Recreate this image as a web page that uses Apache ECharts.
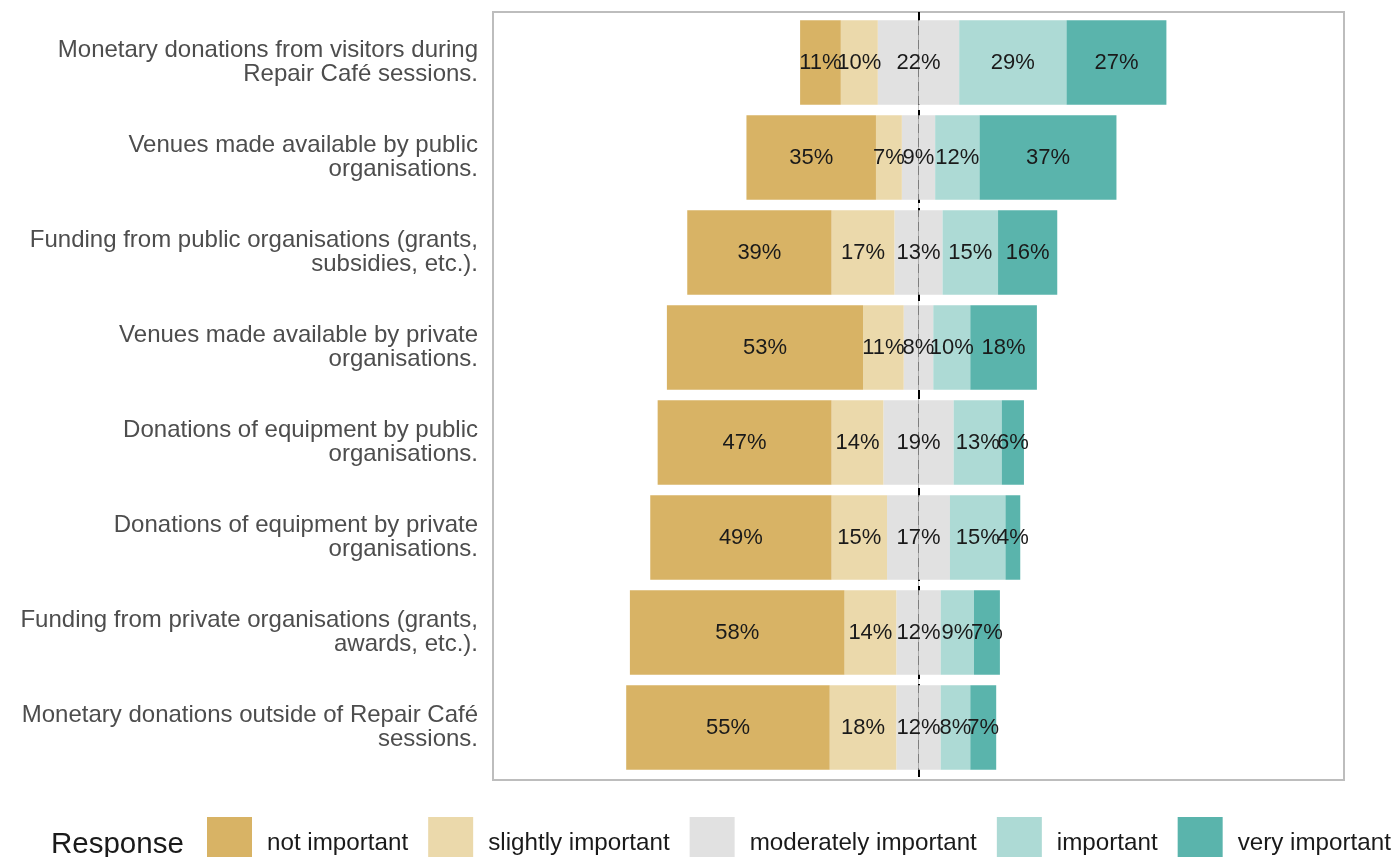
<!DOCTYPE html>
<html>
<head>
<meta charset="utf-8">
<script src="https://cdn.jsdelivr.net/npm/echarts@6/dist/echarts.min.js"></script>
<style>
  html, body { margin: 0; padding: 0; background: #fff; }
  #chart { width: 1391px; height: 857px; }
</style>
</head>
<body>
<div id="chart"></div>
<script>
  // items, top to bottom
  var categories = [
    'Monetary donations from visitors during\nRepair Café sessions.',
    'Venues made available by public\norganisations.',
    'Funding from public organisations (grants,\nsubsidies, etc.).',
    'Venues made available by private\norganisations.',
    'Donations of equipment by public\norganisations.',
    'Donations of equipment by private\norganisations.',
    'Funding from private organisations (grants,\nawards, etc.).',
    'Monetary donations outside of Repair Café\nsessions.'
  ];
  // percentages per response level
  var notImportant      = [11, 35, 39, 53, 47, 49, 58, 55];
  var slightlyImportant = [10, 7, 17, 11, 14, 15, 14, 18];
  var moderately        = [22, 9, 13, 8, 19, 17, 12, 12];
  var important         = [29, 12, 15, 10, 13, 15, 9, 8];
  var veryImportant     = [27, 37, 16, 18, 6, 4, 7, 7];

  var levels = ['not important', 'slightly important', 'moderately important', 'important', 'very important'];
  var colors = {
    'not important': '#D8B365',
    'slightly important': '#EBD9AB',
    'moderately important': '#E1E1E1',
    'important': '#ADDAD5',
    'very important': '#5AB4AC'
  };

  var FONT = '"Liberation Sans", Arial, sans-serif';

  var chart = echarts.init(document.getElementById('chart'));

  function pctLabel(show) {
    return {
      show: show,
      position: 'inside',
      color: '#1a1a1a',
      fontSize: 22,
      fontFamily: FONT,
      formatter: function (p) { return Math.abs(p.value) + '%'; }
    };
  }

  // one stack; negatives and positives stack apart (samesign)
  function barSeries(name, data, labelOn) {
    return {
      name: name,
      type: 'bar',
      xAxisIndex: 1,
      yAxisIndex: 1,
      stack: 'likert',
      stackStrategy: 'samesign',
      barWidth: '89%',
      z: 3,
      itemStyle: { color: colors[name] },
      label: pctLabel(labelOn),
      emphasis: { disabled: true },
      data: data
    };
  }

  var neg = function (v) { return -v; };

  var option = {
    backgroundColor: '#fff',
    animation: false,
    textStyle: { fontFamily: FONT },
    grid: [
      // panel with border
      {
        left: 493, right: 47, top: 12, bottom: 77,
        show: true,
        borderColor: '#bdbdbd',
        borderWidth: 2,
        backgroundColor: '#fff'
      },
      // bars (small inner padding like the panel expansion)
      { left: 493, right: 47, top: 15, bottom: 82 }
    ],
    xAxis: [
      {
        gridIndex: 0,
        type: 'value',
        min: -115,
        max: 115,
        interval: 115,
        axisLine: { show: false },
        axisTick: { show: false },
        axisLabel: { show: false },
        // only the zero line is visible: dashed, under the bars
        splitLine: {
          show: true,
          lineStyle: {
            color: ['rgba(0,0,0,0)', '#000000'],
            type: [9, 5],
            width: 2
          }
        }
      },
      {
        gridIndex: 1,
        type: 'value',
        min: -115,
        max: 115,
        show: false
      }
    ],
    yAxis: [
      { gridIndex: 0, type: 'value', show: false },
      {
        gridIndex: 1,
        type: 'category',
        inverse: true,
        data: categories,
        axisLine: { show: false },
        axisTick: { show: false },
        splitLine: { show: false },
        axisLabel: {
          color: '#4d4d4d',
          fontSize: 24,
          lineHeight: 24,
          align: 'right',
          margin: 15,
          padding: [16, 0, 0, 0],
          fontFamily: FONT
        }
      }
    ],
    legend: {
      data: levels,
      left: 207,
      top: 817,
      width: 1250,
      padding: 0,
      itemWidth: 45,
      itemHeight: 52,
      itemGap: 20,
      icon: 'rect',
      selectedMode: false,
      textStyle: {
        fontSize: 24.2,
        color: '#1a1a1a',
        fontFamily: FONT,
        padding: [0, 0, 0, 10]
      }
    },
    graphic: [{
      type: 'text',
      x: 51,
      y: 845,
      style: {
        text: 'Response',
        fontSize: 29.5,
        fill: '#1a1a1a',
        fontFamily: FONT,
        verticalAlign: 'middle'
      }
    }],
    series: [
      barSeries('moderately important', moderately.map(function (v) { return -v / 2; }), false),
      barSeries('moderately important', moderately.map(function (v) { return v / 2; }), false),
      barSeries('slightly important', slightlyImportant.map(neg), true),
      barSeries('important', important, true),
      barSeries('not important', notImportant.map(neg), true),
      barSeries('very important', veryImportant, true),
      // label for the split middle category
      {
        type: 'scatter',
        xAxisIndex: 1,
        yAxisIndex: 1,
        symbolSize: 0,
        z: 6,
        silent: true,
        itemStyle: { opacity: 1 },
        label: {
          show: true,
          position: 'inside',
          color: '#1a1a1a',
          opacity: 1,
          fontSize: 22,
          fontFamily: FONT,
          formatter: function (p) { return moderately[p.dataIndex] + '%'; }
        },
        data: moderately.map(function (v, i) { return [0, i]; })
      },
      // faint centre line through the bars
      {
        type: 'line',
        xAxisIndex: 1,
        yAxisIndex: 1,
        data: [],
        z: 5,
        markLine: {
          silent: true,
          symbol: 'none',
          label: { show: false },
          lineStyle: { color: 'rgba(0,0,0,0.25)', type: 'solid', width: 1 },
          data: [{ xAxis: 0 }]
        }
      }
    ]
  };

  chart.setOption(option);
</script>
</body>
</html>
